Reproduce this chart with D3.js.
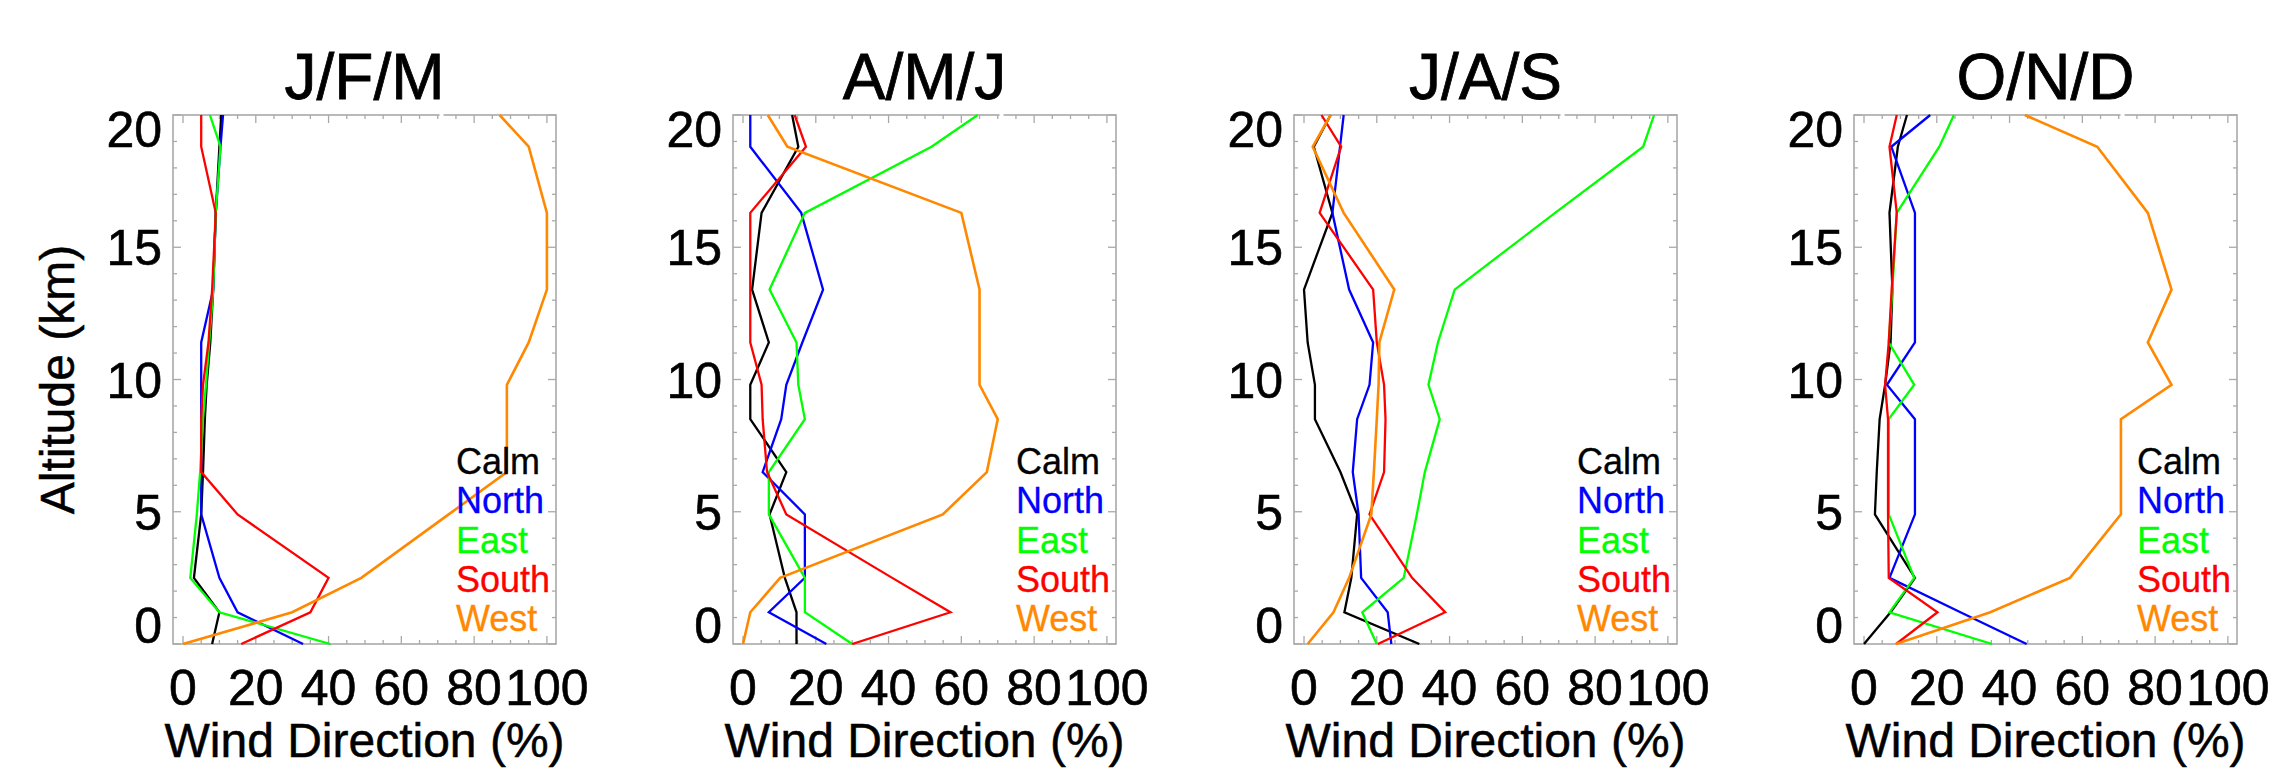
<!DOCTYPE html>
<html>
<head>
<meta charset="utf-8">
<script src="https://cdn.jsdelivr.net/npm/d3@7"></script>
<style>
  html, body { margin: 0; padding: 0; background: #fff; }
  svg { display: block; }
  text { font-family: "Liberation Sans", Arial, Helvetica, sans-serif; }
</style>
</head>
<body>
<svg id="chart" width="2269" height="770"></svg>
<script>
// ---- data ----
const altitudes = [0, 1.2, 2.5, 4.9, 6.5, 8.5, 9.8, 11.4, 13.4, 16.3, 18.8, 20];
const seasons = ["J/F/M", "A/M/J", "J/A/S", "O/N/D"];
const directions = ["Calm", "North", "East", "South", "West"];
const dirColors = ["#000000", "#0000ff", "#00ff00", "#ff0000", "#ff8800"];
const xTickLabels = [0, 20, 40, 60, 80, 100];
const yTickLabels = [0, 5, 10, 15, 20];

// J/F/M
const jfmCalm  = [8, 10, 3, 5, 5.5, 6, 6.5, 7.5, 8.3, 9, 10, 10.5];
const jfmNorth = [33, 15, 10, 5, 5, 5, 5, 5, 8.3, 9, 10.3, 11];
const jfmEast  = [40.5, 10, 2, 3.8, 4.7, 5.5, 6.3, 7.2, 8.3, 9, 10.3, 7.4];
const jfmSouth = [16, 35, 40, 15, 5, 5, 5.5, 7, 8, 9, 5, 5];
const jfmWest  = [0, 30, 49, 73, 89, 89, 89, 95, 100, 100, 95, 87];
// A/M/J
const amjCalm  = [14.7, 14.7, 11.5, 7.3, 11.9, 2, 2, 7.1, 2.5, 5.1, 15.2, 13.5];
const amjNorth = [22.9, 7.1, 17, 17, 5.4, 10.5, 11.9, 16.3, 22, 16, 2, 2];
const amjEast  = [30, 17, 17, 7.1, 7.1, 17, 15.2, 14.7, 7.3, 17, 51.8, 64.5];
const amjSouth = [30, 57, 41, 11.9, 6.6, 5.4, 5.1, 2, 2, 2, 17.3, 14.2];
const amjWest  = [0, 2, 10.2, 54.9, 67, 70, 65, 65, 65, 60, 12.2, 6.8];
// J/A/S
const jasCalm  = [31.7, 11.1, 13, 14.6, 10, 3, 3, 1, 0, 7.8, 2.7, 7.3];
const jasNorth = [24, 23, 15.7, 15, 13.4, 14.6, 18, 19, 12.4, 7.8, 9.9, 10.9];
const jasEast  = [20, 16, 27.4, 31, 33.2, 37.3, 34.2, 36.8, 41.4, 69, 93.2, 96.2];
const jasSouth = [20.3, 38.8, 29.7, 18, 22, 22.4, 22, 20, 19, 4.3, 10.2, 4.8];
const jasWest  = [1, 8.1, 12.4, 18.5, 19.2, 20, 20.5, 20.7, 24.8, 10.9, 2.4, 7.3];
// O/N/D
const ondCalm  = [0, 7.3, 14, 3, 3.5, 4.3, 5.8, 7.3, 7.8, 7, 9.3, 11.8];
const ondNorth = [44.7, 26.5, 7, 14, 14, 14, 6.3, 14, 14, 14, 7.5, 18.2];
const ondEast  = [35.2, 7, 13.8, 6.8, 6.8, 6.8, 13.8, 6.8, 7.8, 9, 20.7, 24.7];
const ondSouth = [8.8, 20.2, 6.8, 6.6, 6.6, 6.6, 5.8, 6.8, 7.6, 9, 7, 9];
const ondWest  = [8.8, 34.7, 56.6, 70.6, 70.6, 70.6, 84.5, 78, 84.5, 78, 64.1, 44.2];

const seasonSeries = [
  [jfmCalm, jfmNorth, jfmEast, jfmSouth, jfmWest],
  [amjCalm, amjNorth, amjEast, amjSouth, amjWest],
  [jasCalm, jasNorth, jasEast, jasSouth, jasWest],
  [ondCalm, ondNorth, ondEast, ondSouth, ondWest]
];

// ---- layout ----
const panelLefts = [173, 733, 1294, 1854];
const plotTop = 115, plotW = 383, plotH = 529;
const axisGray = "#a9a9a9";

const svg = d3.select("#chart");
const x = d3.scaleLinear().domain([-2.75, 102.5]).range([0, plotW]);
const y = d3.scaleLinear().domain([0, 20]).range([plotH, 0]);

function heavy(sel, w) {
  return sel.attr("stroke", function () { return d3.select(this).attr("fill"); })
            .attr("stroke-width", w).attr("paint-order", "stroke");
}

seasons.forEach((season, si) => {
  const g = svg.append("g").attr("transform", `translate(${panelLefts[si]},${plotTop})`);

  // title
  heavy(g.append("text")
    .attr("x", plotW / 2).attr("y", -16)
    .attr("text-anchor", "middle")
    .attr("font-size", 64)
    .attr("fill", "#000")
    .text(season), 0.8);

  // minor / major ticks on all four sides (inward)
  const xt = d3.range(0, 101, 5);
  const yt = d3.range(0, 21, 1);
  const tk = g.append("g").attr("stroke", axisGray).attr("stroke-width", 1.3);
  xt.forEach(v => {
    const len = v % 20 === 0 ? 8 : 4;
    tk.append("line").attr("x1", x(v)).attr("x2", x(v)).attr("y1", plotH).attr("y2", plotH - len);
    tk.append("line").attr("x1", x(v)).attr("x2", x(v)).attr("y1", 0).attr("y2", len);
  });
  yt.forEach(v => {
    const len = v % 5 === 0 ? 8 : 4;
    tk.append("line").attr("y1", y(v)).attr("y2", y(v)).attr("x1", 0).attr("x2", len);
    tk.append("line").attr("y1", y(v)).attr("y2", y(v)).attr("x1", plotW).attr("x2", plotW - len);
  });

  // box
  g.append("rect").attr("x", 0).attr("y", 0).attr("width", plotW).attr("height", plotH)
    .attr("fill", "none").attr("stroke", axisGray).attr("stroke-width", 1.6);
  // small gap in the top border (as in the original)
  g.append("rect").attr("x", x(70.5)).attr("y", -2).attr("width", x(71.6) - x(70.5)).attr("height", 4)
    .attr("fill", "#fff");

  // x tick labels
  heavy(g.append("g").selectAll("text").data(xTickLabels).join("text")
    .attr("x", d => x(d)).attr("y", plotH + 61)
    .attr("text-anchor", "middle").attr("font-size", 50).attr("fill", "#000")
    .text(d => d), 0.6);

  // y tick labels (end labels kept inside the frame height)
  heavy(g.append("g").selectAll("text").data(yTickLabels).join("text")
    .attr("x", -11)
    .attr("y", d => d === 20 ? y(d) + 32 : (d === 0 ? y(d) - 1 : y(d) + 18))
    .attr("text-anchor", "end").attr("font-size", 50).attr("fill", "#000")
    .text(d => d), 0.6);

  // x axis title
  heavy(g.append("text")
    .attr("x", plotW / 2).attr("y", plotH + 113)
    .attr("text-anchor", "middle").attr("font-size", 48).attr("fill", "#000")
    .text("Wind Direction (%)"), 0.5);

  // lines
  const line = d3.line().x(d => x(d[0])).y(d => y(d[1]));
  const clipId = "clip" + si;
  g.append("clipPath").attr("id", clipId).append("rect")
    .attr("x", 0).attr("y", -1).attr("width", plotW).attr("height", plotH + 2);
  const lg = g.append("g").attr("clip-path", `url(#${clipId})`);
  seasonSeries[si].forEach((vals, di) => {
    lg.append("path")
      .datum(vals.map((v, i) => [v, altitudes[i]]))
      .attr("d", line)
      .attr("fill", "none")
      .attr("stroke", dirColors[di])
      .attr("stroke-width", di === 4 ? 2.6 : 2.3)
      .attr("stroke-linejoin", "miter");
  });

  // legend
  heavy(g.append("g").selectAll("text").data(directions).join("text")
    .attr("x", 283).attr("y", (d, i) => 359 + i * 39.3)
    .attr("font-size", 36).attr("fill", (d, i) => dirColors[i])
    .text(d => d), 0.3);
});

// y axis title (first panel only)
heavy(svg.append("text")
  .attr("transform", `translate(74,${plotTop + plotH / 2}) rotate(-90)`)
  .attr("text-anchor", "middle").attr("font-size", 48).attr("fill", "#000")
  .text("Altitude (km)"), 0.5);
</script>
</body>
</html>
